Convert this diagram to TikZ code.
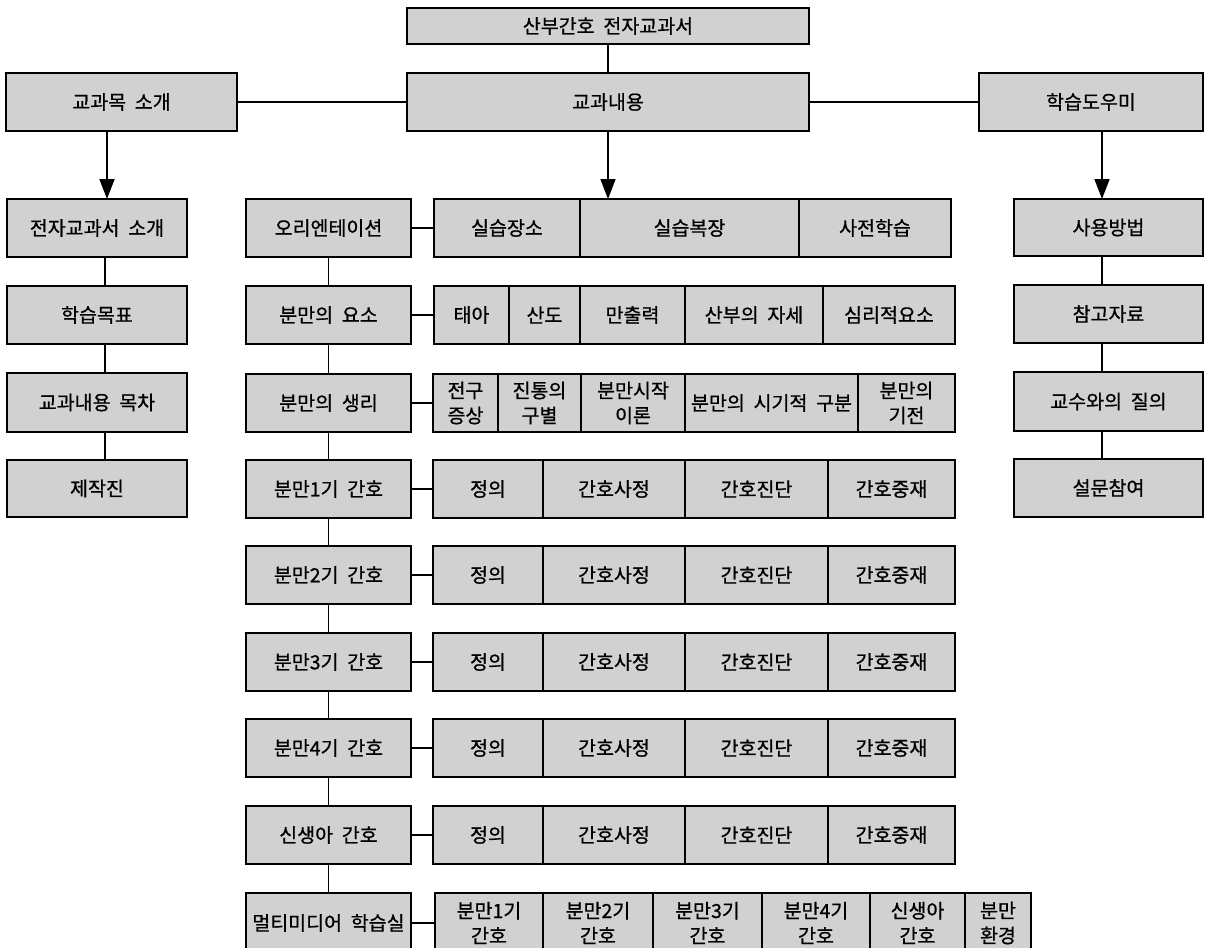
\documentclass[tikz,border=0pt]{standalone}
\usepackage{fontspec}
\newfontfamily\kr[WordSpace=2,FakeBold=0.8]{Noto Sans CJK KR}
\usetikzlibrary{arrows.meta}
\newcommand\bx[6]{\node[box, minimum width={(#4)-(#2)}, minimum height={(#5)-(#3)}] (#1) at ({((#2)+(#4))/2},{((#3)+(#5))/2}) {#6};}
\begin{document}
\begin{tikzpicture}[x=1pt,y=-1pt,
  box/.style={draw=black, line width=1.6pt, fill=black!18, inner sep=0pt, outer sep=0pt, align=center, font=\kr\fontsize{19.5}{25}\selectfont},
  conn/.style={line width=1.7pt},
  arr/.style={line width=1.7pt,-{Triangle[length=20pt,width=15pt]}}]
\useasboundingbox (0,0) rectangle (1211,948);
\clip (0,0) rectangle (1211,948);
% top level
\bx{top}{407}{8}{809}{44}{산부간호 전자교과서}
\bx{intro}{6}{73}{237}{131}{교과목 소개}
\bx{content}{407}{73}{809}{131}{교과내용}
\bx{help}{979}{73}{1203}{131}{학습도우미}
% left column
\bx{L1}{7}{199}{187}{257}{전자교과서 소개}
\bx{L2}{7}{286}{187}{344}{학습목표}
\bx{L3}{7}{373}{187}{432}{교과내용 목차}
\bx{L4}{7}{460}{187}{517}{제작진}
% middle column
\bx{M1}{246}{199}{411}{257}{오리엔테이션}
\bx{M2}{246}{286}{411}{344}{분만의 요소}
\bx{M3}{246}{374}{411}{432}{분만의 생리}
\bx{M4}{246}{460}{411}{518}{분만1기 간호}
\bx{M5}{246}{546}{411}{604}{분만2기 간호}
\bx{M6}{246}{633}{411}{691}{분만3기 간호}
\bx{M7}{246}{719}{411}{777}{분만4기 간호}
\bx{M8}{246}{806}{411}{864}{신생아 간호}
\bx{M9}{246}{893}{411}{953}{멀티미디어 학습실}
% right column
\bx{R1}{1014}{199}{1203}{256}{사용방법}
\bx{R2}{1014}{285}{1203}{343}{참고자료}
\bx{R3}{1014}{372}{1203}{431}{교수와의 질의}
\bx{R4}{1014}{459}{1203}{517}{설문참여}
% row 1
\bx{r1a}{434}{199}{580}{257}{실습장소}
\bx{r1b}{580}{199}{799}{257}{실습복장}
\bx{r1c}{799}{199}{951}{257}{사전학습}
% row 2
\bx{r2a}{434}{286}{509}{344}{태아}
\bx{r2b}{509}{286}{580}{344}{산도}
\bx{r2c}{580}{286}{685}{344}{만출력}
\bx{r2d}{685}{286}{823}{344}{산부의 자세}
\bx{r2e}{823}{286}{955}{344}{심리적요소}
% row 3
\bx{r3a}{433}{374}{498}{432}{전구\\증상}
\bx{r3b}{498}{374}{581}{432}{진통의\\구별}
\bx{r3c}{581}{374}{685}{432}{분만시작\\이론}
\bx{r3d}{685}{374}{858}{432}{분만의 시기적 구분}
\bx{r3e}{858}{374}{955}{432}{분만의\\기전}
% rows 4-8
\bx{r4a}{433}{460}{543}{518}{정의}
\bx{r4b}{543}{460}{685}{518}{간호사정}
\bx{r4c}{685}{460}{828}{518}{간호진단}
\bx{r4d}{828}{460}{955}{518}{간호중재}
\bx{r5a}{433}{546}{543}{604}{정의}
\bx{r5b}{543}{546}{685}{604}{간호사정}
\bx{r5c}{685}{546}{828}{604}{간호진단}
\bx{r5d}{828}{546}{955}{604}{간호중재}
\bx{r6a}{433}{633}{543}{691}{정의}
\bx{r6b}{543}{633}{685}{691}{간호사정}
\bx{r6c}{685}{633}{828}{691}{간호진단}
\bx{r6d}{828}{633}{955}{691}{간호중재}
\bx{r7a}{433}{719}{543}{777}{정의}
\bx{r7b}{543}{719}{685}{777}{간호사정}
\bx{r7c}{685}{719}{828}{777}{간호진단}
\bx{r7d}{828}{719}{955}{777}{간호중재}
\bx{r8a}{433}{806}{543}{864}{정의}
\bx{r8b}{543}{806}{685}{864}{간호사정}
\bx{r8c}{685}{806}{828}{864}{간호진단}
\bx{r8d}{828}{806}{955}{864}{간호중재}
% row 9
\bx{r9a}{435}{893}{543}{953}{분만1기\\간호}
\bx{r9b}{543}{893}{653}{953}{분만2기\\간호}
\bx{r9c}{653}{893}{762}{953}{분만3기\\간호}
\bx{r9d}{762}{893}{870}{953}{분만4기\\간호}
\bx{r9e}{870}{893}{965}{953}{신생아\\간호}
\bx{r9f}{965}{893}{1031}{953}{분만\\환경}
% connector x positions
\coordinate (xL) at (105,0);
\coordinate (xA) at (107,0);
\coordinate (xR) at (1102,0);
% top connectors
\draw[conn] (top.south) -- (content.north);
\draw[conn] (intro.east) -- (content.west);
\draw[conn] (content.east) -- (help.west);
\draw[arr] (intro.south -| xA) -- (L1.north -| xA);
\draw[arr] (content.south) -- (content.south |- r1b.north);
\draw[arr] (help.south -| xR) -- (R1.north -| xR);
% left column
\draw[conn] (L1.south -| xL) -- (L2.north -| xL);
\draw[conn] (L2.south -| xL) -- (L3.north -| xL);
\draw[conn] (L3.south -| xL) -- (L4.north -| xL);
% right column
\draw[conn] (R1.south -| xR) -- (R2.north -| xR);
\draw[conn] (R2.south -| xR) -- (R3.north -| xR);
\draw[conn] (R3.south -| xR) -- (R4.north -| xR);
% middle column
\foreach \a/\b in {M1/M2,M2/M3,M3/M4,M4/M5,M5/M6,M6/M7,M7/M8,M8/M9}
  \draw[conn] (\a.south) -- (\b.north);
\foreach \m/\r in {M1/r1a,M2/r2a,M3/r3a,M4/r4a,M5/r5a,M6/r6a,M7/r7a,M8/r8a,M9/r9a}
  \draw[conn] (\m.east) -- (\r.west);
\end{tikzpicture}
\end{document}
